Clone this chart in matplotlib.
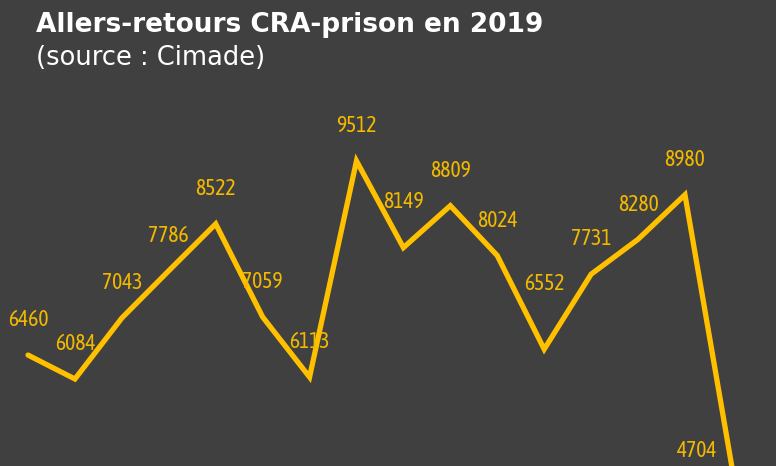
import numpy as np
import matplotlib.pyplot as plt

# monthly values (2019)
values = [6460, 6084, 7043, 7786, 8522, 7059, 6113, 9512,
          8149, 8809, 8024, 6552, 7731, 8280, 8980, 4704]

bg = "#404040"
line_color = "#FFC000"
label_color = "#F2B900"
narrow = ["Liberation Sans Narrow", "Asap Condensed", "Archivo Narrow", "DejaVu Sans"]

# label offsets in points: most sit right above their point, a few were moved
label_dx = [0] * len(values)
label_dy = [25] * len(values)
label_dy[8] = 33
label_dy[11] = 47
label_dx[-1], label_dy[-1] = -25, 11  # last point falls below the frame

fig = plt.figure(figsize=(7.76, 4.66), dpi=100, facecolor=bg)
ax = fig.add_axes([0, 0, 1, 1], facecolor=bg)

x = np.arange(len(values))
ax.plot(x, values, color=line_color, lw=3.8, solid_capstyle="round",
        solid_joinstyle="miter")

for i, v in enumerate(values):
    ax.annotate(str(v), (x[i], v), xytext=(label_dx[i], label_dy[i]),
                textcoords="offset points", ha="center", va="center",
                color=label_color, fontsize=15.5, family=narrow,
                annotation_clip=False)

ax.set_xlim(-0.597, 15.94)
ax.set_ylim(4716, 12042)
ax.axis("off")

fig.text(0.047, 0.946, "Allers-retours CRA-prison en 2019", color="white",
         fontsize=19, fontweight="bold", va="center", family="DejaVu Sans")
fig.text(0.047, 0.876, "(source : Cimade)", color="white",
         fontsize=18.5, va="center", family="DejaVu Sans")

fig.savefig("out.png", dpi=100, facecolor=bg)
